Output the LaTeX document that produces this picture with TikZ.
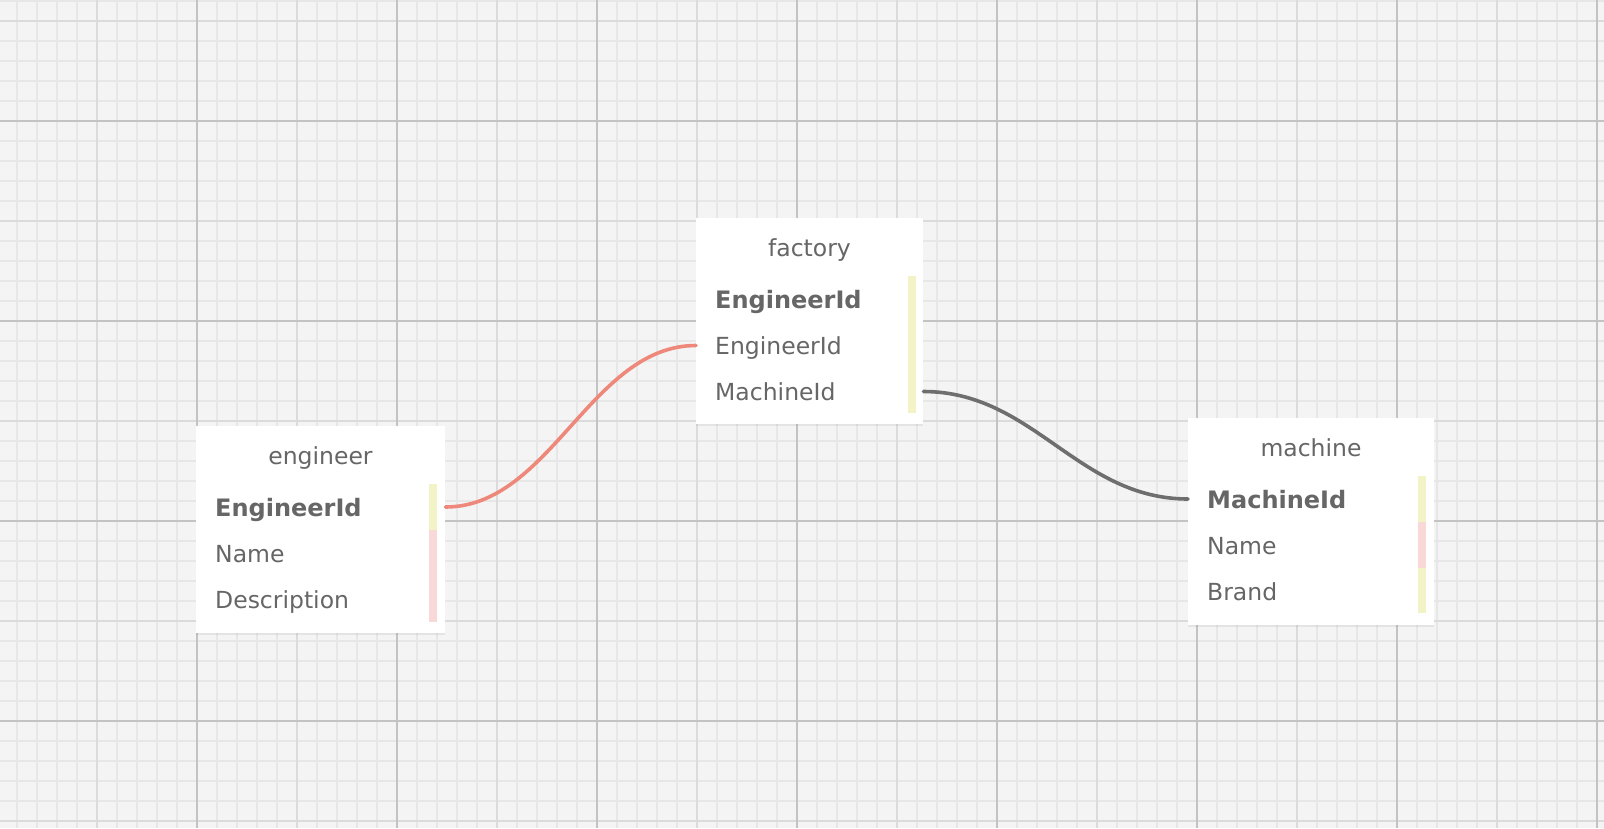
\documentclass[tikz,border=0pt]{standalone}
\usepackage{fontspec}
\setmainfont{DejaVu Sans}
\usetikzlibrary{calc,shadows}
\definecolor{bgc}{HTML}{F4F4F4}
\definecolor{minorc}{HTML}{E7E7E7}
\definecolor{medc}{HTML}{DBDBDB}
\definecolor{majorc}{HTML}{C3C3C3}
\definecolor{txtc}{HTML}{666666}
\definecolor{barY}{HTML}{F2F4C8}
\definecolor{barP}{HTML}{F9D9D7}
\definecolor{redc}{HTML}{EE887A}
\definecolor{grayc}{HTML}{6E6E6E}
\tikzset{
  minorline/.style={minorc, line width=1.7pt},
  medline/.style={medc, line width=1.5pt},
  majorline/.style={majorc, line width=1.4pt},
  tablebox/.style={fill=white, draw=none, inner sep=0pt, anchor=north west,
    drop shadow={opacity=0.13, shadow xshift=0pt, shadow yshift=-1.4pt}},
  titletext/.style={text=txtc, font=\fontsize{23.5}{28}\selectfont, anchor=base, inner sep=0pt},
  rowtext/.style={text=txtc, font=\fontsize{23.5}{28}\selectfont, anchor=base west, inner sep=0pt},
  keytext/.style={rowtext, font=\fontsize{24}{28}\selectfont\bfseries},
  conn/.style={line width=3.6pt, line cap=round},
}
\begin{document}
\begin{tikzpicture}[x=1pt,y=-1pt]
\useasboundingbox (0,0) rectangle (1604,828);
\fill[bgc] (0,0) rectangle (1604,828);
% grid
\foreach \x in {17,37,...,1597} \draw[minorline] (\x,0) -- (\x,828);
\foreach \y in {1,21,...,821} \draw[minorline] (0,\y) -- (1604,\y);
\foreach \x in {97,297,...,1497} \draw[medline] (\x,0) -- (\x,828);
\foreach \y in {21,221,421,621,821} \draw[medline] (0,\y) -- (1604,\y);
\foreach \x in {197,397,...,1597} \draw[majorline] (\x,0) -- (\x,828);
\foreach \y in {121,321,521,721} \draw[majorline] (0,\y) -- (1604,\y);

% engineer table
\node[tablebox, minimum width=249pt, minimum height=207pt] (eng) at (196,426) {};
\node[titletext] (engT) at (320.5,464) {engineer};
\node[keytext] (eng1) at (215,516) {EngineerId};
\node[rowtext] (eng2) at (215,562) {Name};
\node[rowtext] (eng3) at (215,608) {Description};
\fill[barY] (429,484) rectangle (437,530);
\fill[barP] (429,530) rectangle (437,622);

% factory table
\node[tablebox, minimum width=227pt, minimum height=206pt] (fac) at (696,218) {};
\node[titletext] (facT) at (809.5,256) {factory};
\node[keytext] (fac1) at (715,308) {EngineerId};
\node[rowtext] (fac2) at (715,354) {EngineerId};
\node[rowtext] (fac3) at (715,400) {MachineId};
\fill[barY] (908,276) rectangle (916,413);

% machine table
\node[tablebox, minimum width=246pt, minimum height=207pt] (mac) at (1188,418) {};
\node[titletext] (macT) at (1311,456) {machine};
\node[keytext] (mac1) at (1207,508) {MachineId};
\node[rowtext] (mac2) at (1207,554) {Name};
\node[rowtext] (mac3) at (1207,600) {Brand};
\fill[barY] (1418,476) rectangle (1426,522);
\fill[barP] (1418,522) rectangle (1426,568);
\fill[barY] (1418,568) rectangle (1426,613);

% connector anchors
\coordinate (pA) at ($(eng.east |- eng1.base)+(0,-9)$);
\coordinate (pB) at ($(fac.west |- fac2.base)+(0,-8.5)$);
\coordinate (pC) at ($(fac.east |- fac3.base)+(0,-8.5)$);
\coordinate (pD) at ($(mac.west |- mac1.base)+(0,-9)$);

\draw[conn, redc] (pA) .. controls +(105,0) and +(-105,0) .. (pB);
\draw[conn, grayc] (pC) .. controls +(110,0) and +(-110,0) .. (pD);
\end{tikzpicture}
\end{document}
